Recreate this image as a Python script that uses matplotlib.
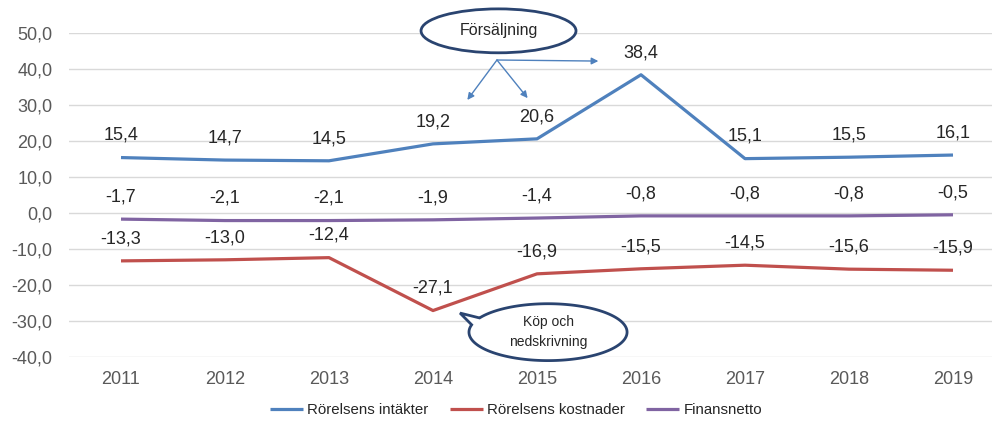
import matplotlib.pyplot as plt
from matplotlib.patches import Ellipse, Polygon
import numpy as np

plt.rcParams["font.family"] = ["Liberation Sans", "DejaVu Sans"]

years = ["2011", "2012", "2013", "2014", "2015", "2016", "2017", "2018", "2019"]
intakter = [15.4, 14.7, 14.5, 19.2, 20.6, 38.4, 15.1, 15.5, 16.1]
kostnader = [-13.3, -13.0, -12.4, -27.1, -16.9, -15.5, -14.5, -15.6, -15.9]
finansnetto = [-1.7, -2.1, -2.1, -1.9, -1.4, -0.8, -0.8, -0.8, -0.5]
yticks = [50, 40, 30, 20, 10, 0, -10, -20, -30, -40]

BLUE = "#4F81BD"
RED = "#C0504D"
PURPLE = "#8064A2"
NAVY = "#2A4470"


def fmt(v):
    return f"{v:.1f}".replace(".", ",")


fig = plt.figure(figsize=(9.92, 4.21), dpi=100)
ax = fig.add_axes([69 / 992, 64 / 421, 1 - 69 / 992, 324 / 421])

x = np.arange(len(years))
series = [
    (intakter, BLUE, "Rörelsens intäkter"),
    (kostnader, RED, "Rörelsens kostnader"),
    (finansnetto, PURPLE, "Finansnetto"),
]
for vals, col, lab in series:
    ax.plot(x, vals, color=col, lw=2.3, label=lab, solid_capstyle="butt")
    for xi, v in zip(x, vals):
        ax.annotate(fmt(v), (xi, v), xytext=(0, 16), textcoords="offset points",
                    ha="center", va="center", fontsize=13, color="#262626")

ax.set_xlim(-0.5, (992 - 121) / 104)
ax.set_ylim(-40, 50)
ax.set_xticks(x)
ax.set_xticklabels(years)
ax.set_yticks(yticks)
ax.set_yticklabels([fmt(v) for v in yticks])
ax.tick_params(axis="both", length=0, labelsize=13, labelcolor="#595959")
ax.tick_params(axis="y", pad=12)
ax.tick_params(axis="x", pad=10)
ax.grid(axis="y", color="#D9D9D9", lw=1)
ax.set_axisbelow(True)
for s in ax.spines.values():
    s.set_visible(False)

# callout "Försäljning"
ax.add_patch(Ellipse((3.63, 50.6), 1.49, 12.2, facecolor="white",
                     edgecolor=NAVY, lw=2.0, clip_on=False, zorder=5))
ax.text(3.63, 50.6, "Försäljning", ha="center", va="center", fontsize=11.5,
        color="#262626", zorder=6, clip_on=False)
for tx, ty in [(3.33, 31.4), (3.91, 31.9), (4.59, 42.2)]:
    ax.annotate("", xy=(tx, ty), xytext=(3.615, 42.5),
                arrowprops=dict(arrowstyle="-|>", color=BLUE, lw=1,
                                mutation_scale=10, shrinkA=0, shrinkB=0))

# speech bubble "Köp och nedskrivning"
cx, cy, a, b = 4.106, -33.1, 0.76, 7.9
t = np.radians(np.linspace(165, 150 + 360, 200))
pts = list(zip(cx + a * np.cos(t), cy + b * np.sin(t)))
pts.append((3.26, -27.8))
ax.add_patch(Polygon(pts, closed=True, facecolor="white", edgecolor=NAVY,
                     lw=2.0, clip_on=False, zorder=5))
ax.text(cx, cy, "Köp och\nnedskrivning", ha="center", va="center", fontsize=10,
        color="#262626", zorder=6, linespacing=1.5)

fig.legend(loc="center", bbox_to_anchor=(516 / 992, 1 - 410 / 421), ncol=3,
           frameon=False, fontsize=10.8, handlelength=2.2, handletextpad=0.3,
           columnspacing=1.4, labelcolor="#262626")

fig.savefig("out.png", dpi=100)
